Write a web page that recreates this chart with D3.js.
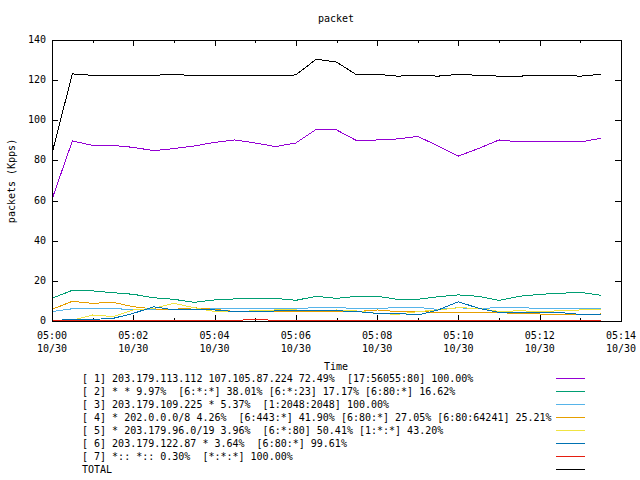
<!DOCTYPE html>
<html><head><meta charset="utf-8">
<script src="https://cdn.jsdelivr.net/npm/d3@7"></script>
<style>
body{margin:0;background:#fff;}
text{font-family:"DejaVu Sans Mono",monospace;font-size:10px;fill:#000;white-space:pre;}
</style></head><body>
<script>
const times = ["05:00:00","05:00:30","05:01:00","05:01:30","05:02:00","05:02:30","05:03:00","05:03:30","05:04:00","05:04:30","05:05:00","05:05:30","05:06:00","05:06:30","05:07:00","05:07:30","05:08:00","05:08:30","05:09:00","05:09:30","05:10:00","05:10:30","05:11:00","05:11:30","05:12:00","05:12:30","05:13:00","05:13:30"];
const s1 = [60.6,89.7,87.5,87.5,86.5,84.9,85.9,87.2,89,90.2,88.7,86.9,88.7,95.5,95.2,89.8,90.2,90.7,92,87.2,82.2,86,90.2,89.2,89.2,89.2,89.2,91];
const s2 = [11.3,15.3,15,14.1,13.3,11.6,10.8,9.3,10.5,11,11,11.3,10.3,12.3,11.3,12.3,12.3,10.8,10.8,12.1,13,12.3,10.3,12.3,13.3,13.8,14.3,12.8];
const s3 = [4.7,6.1,6.1,6.1,5.8,5.8,5.8,5.9,6,6,6,6,6.3,6.6,6.8,6.1,6.1,6.8,6.8,5.8,6.6,6.1,6.8,6.8,6.1,6.1,6.1,6.1];
const s4 = [5.8,9.8,8.8,9.3,7.1,6,5.8,6.6,5.8,4.7,5.1,4.7,4.7,4.7,4.7,4.7,5.5,4.7,4.7,4.3,4.3,4.3,4.3,3.5,3.5,3,3,3.5];
const s5 = [0,0.3,3,2.2,5.5,6.3,8.8,6.6,4.7,4.7,5.1,5.5,5.5,5,5.5,5,3.8,3.3,4.7,5.5,6.6,6.3,4.7,5.1,4.7,5.1,5.5,5.8];
const s6 = [0.2,0.8,0.8,1.3,3.8,7.1,5.5,5.5,5.5,4.7,4.7,5,5.1,5.1,5.1,4.7,3.8,3.8,3,5.5,9.6,6.3,4.3,4.3,4.3,4.2,3.3,3];
const s7 = [0,0.3,0.3,0.3,0.3,0.3,0.3,0.3,0.3,0.3,0.8,0.3,0.3,0.3,0.3,0.3,0.3,0.3,0.3,0.3,0.3,0.3,0.3,0.3,0.3,0.3,0.3,0.3];
const total = [83.5,123.1,122.4,122.1,122.1,122.4,122.9,122.2,122.4,122.1,122.1,122.1,122.6,130.4,129,122.6,122.9,122,122.4,122,122.9,122.4,122,122,122.4,122.4,122,122.9];
const labels = [
 "[ 1] 203.179.113.112 107.105.87.224 72.49%  [17:56055:80] 100.00%",
 "[ 2] * * 9.97%  [6:*:*] 38.01% [6:*:23] 17.17% [6:80:*] 16.62%",
 "[ 3] 203.179.109.225 * 5.37%  [1:2048:2048] 100.00%",
 "[ 4] * 202.0.0.0/8 4.26%  [6:443:*] 41.90% [6:80:*] 27.05% [6:80:64241] 25.21%",
 "[ 5] * 203.179.96.0/19 3.96%  [6:*:80] 50.41% [1:*:*] 43.20%",
 "[ 6] 203.179.122.87 * 3.64%  [6:80:*] 99.61%",
 "[ 7] *:: *:: 0.30%  [*:*:*] 100.00%",
 "TOTAL"];
const colors = ["#9400d3","#009e73","#56b4e9","#e69f00","#f0e442","#0072b2","#e51e10","#000000"];
const yTicks = [0,20,40,60,80,100,120,140];
const xTickLabels = ["05:00","05:02","05:04","05:06","05:08","05:10","05:12","05:14"];
const dateLabel = "10/30";

const series = [s1,s2,s3,s4,s5,s6,s7,total];
const W=640,H=480, L=52, R=621, T=40, B=321;
const parse = s => new Date(Date.UTC(2000,9,30,+s.slice(0,2),+s.slice(3,5),+(s.slice(6,8)||0)));
const svg = d3.select("body").append("svg").attr("width",W).attr("height",H);
const x = d3.scaleUtc().domain([parse("05:00"),parse("05:14")]).range([L,R]);
const y = d3.scaleLinear().domain([0,140]).range([B,T]);

svg.append("text").attr("x",336).attr("y",19).attr("text-anchor","middle").attr("dominant-baseline","middle").text("packet");
svg.append("text").attr("transform","translate(12,181) rotate(-90)").attr("text-anchor","middle").attr("dominant-baseline","middle").text("packets (Kpps)");
svg.append("text").attr("x",336).attr("y",367).attr("text-anchor","middle").attr("dominant-baseline","middle").text("Time");

const g = svg.append("g").attr("shape-rendering","crispEdges");
yTicks.forEach(v=>{
  const yy = Math.round(y(v))+0.5;
  g.append("line").attr("x1",L).attr("x2",L+6).attr("y1",yy).attr("y2",yy).attr("stroke","#000");
  g.append("line").attr("x1",R-6).attr("x2",R).attr("y1",yy).attr("y2",yy).attr("stroke","#000");
  svg.append("text").attr("x",46).attr("y",y(v)).attr("text-anchor","end").attr("dominant-baseline","middle").text(v);
});
const minor = d3.utcMinute.range(parse("05:00"),d3.utcMinute.offset(parse("05:14"),1));
minor.forEach((d,i)=>{
  const xx = Math.round(x(d))+0.5; const len = (i%2===0)?6:3;
  g.append("line").attr("x1",xx).attr("x2",xx).attr("y1",B).attr("y2",B-len).attr("stroke","#000");
  g.append("line").attr("x1",xx).attr("x2",xx).attr("y1",T).attr("y2",T+len).attr("stroke","#000");
});
xTickLabels.forEach(lbl=>{
  const xx = x(parse(lbl));
  svg.append("text").attr("x",xx).attr("y",336).attr("text-anchor","middle").attr("dominant-baseline","middle").text(lbl);
  svg.append("text").attr("x",xx).attr("y",349).attr("text-anchor","middle").attr("dominant-baseline","middle").text(dateLabel);
});

const line = d3.line().x((d,i)=>x(parse(times[i]))).y(d=>y(d));
series.forEach((s,k)=>{
  g.append("path").datum(s).attr("d",line).attr("fill","none").attr("stroke",colors[k]).attr("stroke-width",1);
});
g.append("rect").attr("x",L+0.5).attr("y",T+0.5).attr("width",R-L).attr("height",B-T).attr("fill","none").attr("stroke","#000");

labels.forEach((lbl,i)=>{
  const yy = 378+13*i;
  svg.append("text").attr("x",82).attr("y",yy+1).attr("dominant-baseline","middle").attr("xml:space","preserve").text(lbl);
  g.append("line").attr("x1",556).attr("x2",585).attr("y1",yy+0.5).attr("y2",yy+0.5).attr("stroke",colors[i]);
});
</script>
</body></html>
